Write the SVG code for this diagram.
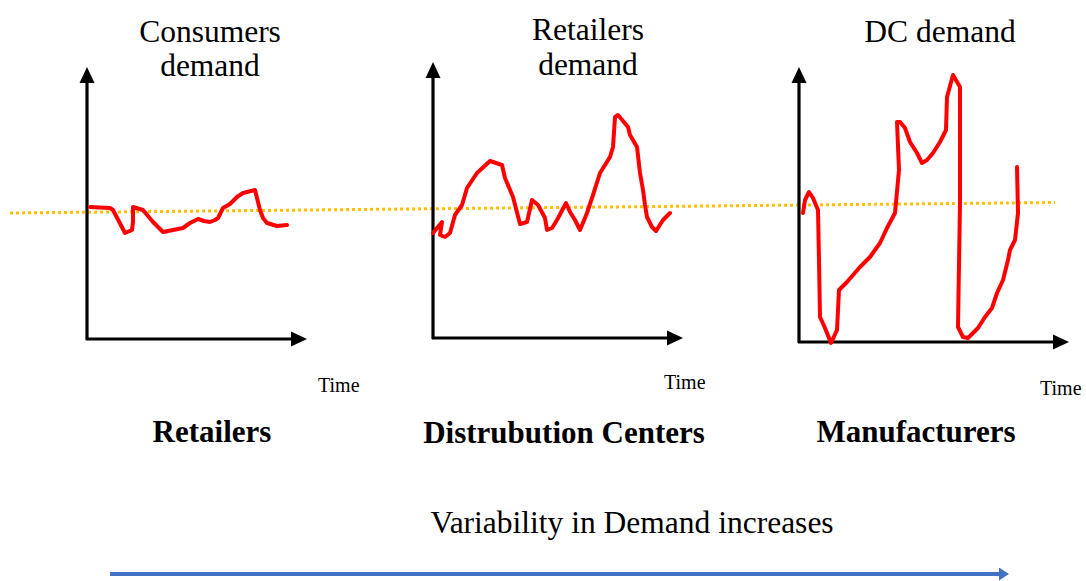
<svg xmlns="http://www.w3.org/2000/svg" width="1086" height="581" viewBox="0 0 1086 581">
<defs>
<style>
.title{font-family:"Liberation Serif","Times New Roman",serif;font-size:31.5px;fill:#000;text-anchor:middle}
.bold{font-family:"Liberation Serif","Times New Roman",serif;font-size:31px;font-weight:bold;fill:#000;text-anchor:middle}
.time{font-family:"Liberation Serif","Times New Roman",serif;font-size:20px;fill:#000;text-anchor:start}
.axis{stroke:#000;stroke-width:3.2;fill:none;marker-end:url(#ah)}
.demand{stroke:#FF0000;stroke-width:4;fill:none;stroke-linejoin:round;stroke-linecap:round}
.avg{stroke:#FFC000;stroke-width:3;stroke-dasharray:3 3;fill:none}
</style>
<marker id="ah" markerUnits="userSpaceOnUse" markerWidth="16" markerHeight="16" refX="2" refY="8" orient="auto">
<path d="M0,0.5 L16,8 L0,15.5 z" fill="#000"/>
</marker>
<marker id="bh" markerUnits="userSpaceOnUse" markerWidth="11" markerHeight="13" refX="1" refY="6.5" orient="auto">
<path d="M0,0 L10,6.5 L0,13 z" fill="#4472C4"/>
</marker>
</defs>
<rect width="1086" height="581" fill="#fff"/>

<g id="connectors">
<line class="avg" x1="10" y1="213" x2="1055" y2="202.5"/>
<line x1="110" y1="574" x2="1000" y2="574" stroke="#4472C4" stroke-width="4" marker-end="url(#bh)"/>
</g>

<g id="chart-retailers">
<line class="axis" x1="87" y1="340" x2="87" y2="81"/>
<line class="axis" x1="86" y1="339" x2="293" y2="339"/>
<polyline class="demand" points="90,207 110,208 113,210 125,233 132,230 133,222 133,207 143,210 153,222 163,232 183,228 190,223 198,219 204,221 210,222 215,220 218,218 223,208 230,204 237,197 243,193 255,190 260,210 263,218 267,223 277,226 287,225"/>
<text class="title" x="210" y="42">Consumers</text>
<text class="title" x="210" y="76">demand</text>
<text class="time" x="318" y="392">Time</text>
<text class="bold" x="212" y="442">Retailers</text>
</g>

<g id="chart-dc">
<line class="axis" x1="433" y1="339" x2="433" y2="76"/>
<line class="axis" x1="432" y1="338" x2="669" y2="338"/>
<polyline class="demand" points="433,233 442,222 440,235 445,237 450,233 455,215 462,205 467,188 477,173 490,161 502,165 505,178 513,197 520,224 527,222 532,200 538,205 545,218 547,230 552,228 557,220 566,203 570,212 575,220 580,230 587,213 593,195 600,173 610,157 613,147 615,117 618,115 628,127 630,135 637,147 640,173 643,190 645,205 647,217 652,227 656,231 663,220 670,213"/>
<text class="title" x="588" y="40">Retailers</text>
<text class="title" x="588" y="75">demand</text>
<text class="time" x="664" y="389">Time</text>
<text class="bold" x="564" y="443">Distrubution Centers</text>
</g>

<g id="chart-manufacturers">
<line class="axis" x1="799" y1="343" x2="799" y2="81"/>
<line class="axis" x1="798" y1="342" x2="1055" y2="342"/>
<polyline class="demand" points="803,213 805,200 809,192 813,198 818,210 819,260 820,317 825,328 831,343 837,330 839,290 847,282 860,267 870,257 880,243 887,228 895,213 899,170 897,122 900,122 905,128 910,142 917,153 922,163 927,160 933,153 940,142 946,130 947,97 953,75 960,87 960,203 958,327 963,337 968,338 978,328 985,317 992,308 997,293 1003,280 1008,260 1010,250 1015,240 1018,213 1017,167"/>
<text class="title" x="940" y="42">DC demand</text>
<text class="time" x="1040" y="395">Time</text>
<text class="bold" x="916" y="442">Manufacturers</text>
</g>

<g id="caption">
<text class="title" x="632" y="533">Variability in Demand increases</text>
</g>
</svg>
